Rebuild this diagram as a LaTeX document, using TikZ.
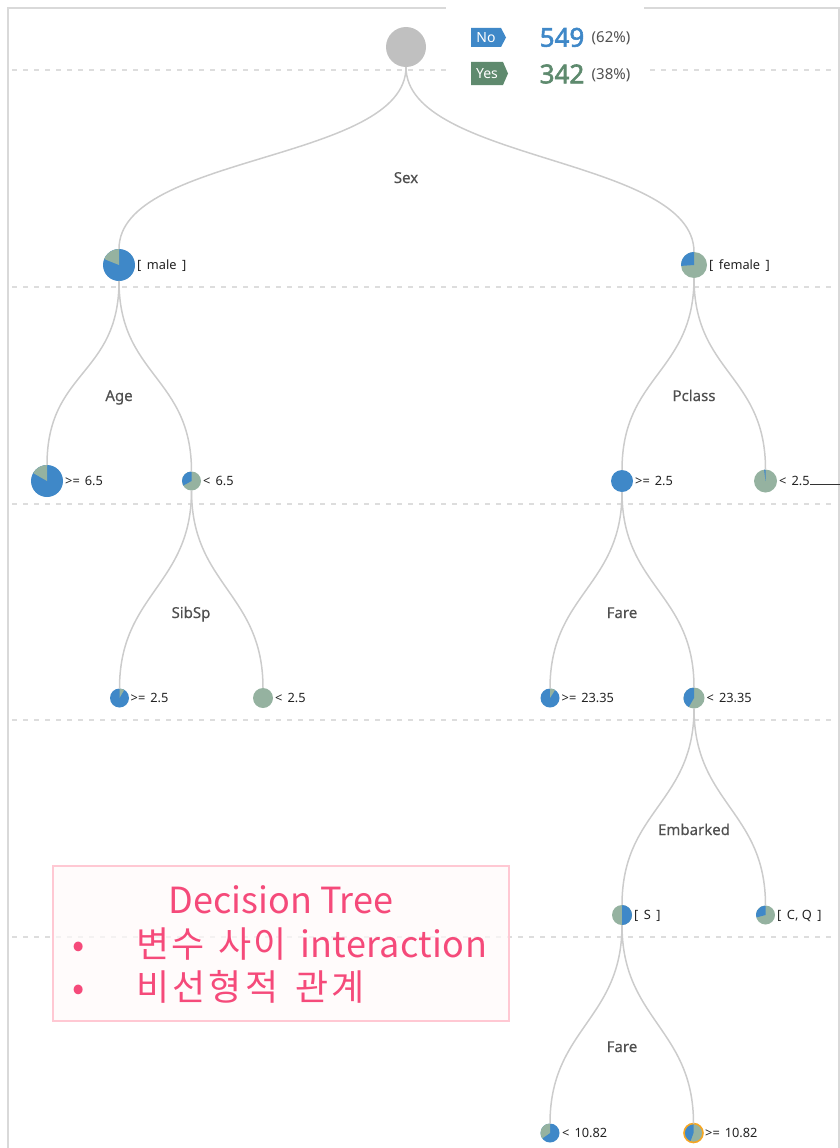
\documentclass[tikz,border=0pt]{standalone}
\usepackage{fontspec}
\setmainfont{Noto Sans}
\newfontfamily\krfont{Noto Sans CJK KR}
\newfontfamily\numfont[FakeBold=2.2]{Noto Sans}
\newfontfamily\splitfont[FakeBold=0.4]{Noto Sans}
\usetikzlibrary{calc}
\definecolor{pieblue}{HTML}{3F88C8}
\definecolor{piegreen}{HTML}{95B2A0}
\definecolor{rootgray}{HTML}{C0C0C0}
\definecolor{edgegray}{HTML}{CCCCCC}
\definecolor{lblgray}{HTML}{505050}
\definecolor{dashgray}{HTML}{DDDDDD}
\definecolor{framegray}{HTML}{D9D9D9}
\definecolor{tagblue}{HTML}{3F88C8}
\definecolor{taggreen}{HTML}{5F8A6E}
\definecolor{numgreen}{HTML}{5E8A6E}
\definecolor{pinktext}{HTML}{F54A7A}
\definecolor{pinkborder}{HTML}{FFC8D3}
\definecolor{pinkfill}{HTML}{FFFAFA}
\definecolor{selorange}{HTML}{F5A623}
\definecolor{leaftext}{HTML}{222222}
\newcommand\piewedge[5]{\fill[#5] (#1.center) -- (#1.#3) arc[start angle=#3, end angle=#4, radius=#2] -- cycle;}
\newcommand\branch[2]{\draw[branchline] (#1.south) .. controls ($(#1.south)+(0,95)$) and ($(#2.north)+(0,-95)$) .. (#2.north);}
\newcommand\krword[2]{{\addfontfeature{LetterSpace=#1}#2}}
\newcommand\enword[1]{{\addfontfeature{LetterSpace=1}#1}}
\begin{document}
\begin{tikzpicture}[x=1pt,y=-1pt,
  piecirc/.style={circle, inner sep=0pt, outer sep=0pt, minimum size=#1},
  branchline/.style={draw=edgegray, line width=1.5pt},
  splitlbl/.style={font=\splitfont\fontsize{15}{17}\selectfont, text=lblgray, inner sep=0pt, anchor=base},
  leaflbl/.style={font=\fontsize{12.8}{14}\selectfont, text=leaftext, inner sep=0pt, anchor=base west},
  sepline/.style={draw=dashgray, line width=1.2pt, dash pattern=on 5pt off 6pt},
  pinkt/.style={font=\krfont\fontsize{36}{40}\selectfont, text=pinktext, inner sep=0pt},
]
\useasboundingbox (0,0) rectangle (840,1148);
% frame
\draw[framegray, line width=1.5pt] (8,1148) -- (8,8) -- (839,8) -- (839,1148);
% level separators
\foreach \yy in {70,287,504,720,937} {\draw[sepline] (12,\yy) -- (836,\yy);}
% legend background
\fill[white] (446,0) rectangle (644,95);
% legend
\fill[tagblue] (471,28) -- (501,28) -- (506,37.5) -- (501,47) -- (471,47) -- cycle;
\node[text=white, font=\fontsize{14}{16}\selectfont, inner sep=0pt] (notag) at (486,37.5) {No};
\fill[taggreen] (471,62) -- (503,62) -- (508,73.5) -- (503,85) -- (471,85) -- cycle;
\node[text=white, font=\fontsize{14}{16}\selectfont, inner sep=0pt] (yestag) at (487,73.5) {Yes};
\node[anchor=base west, inner sep=0pt, text=pieblue, font=\numfont\fontsize{26}{28}\selectfont] (nonum) at (539.5,46.7) {549};
\node[anchor=base west, inner sep=0pt, text=lblgray, font=\fontsize{15}{17}\selectfont] (nopct) at (591.5,42.3) {(62\%)};
\node[anchor=base west, inner sep=0pt, text=numgreen, font=\numfont\fontsize{26}{28}\selectfont] (yesnum) at (539.5,83.3) {342};
\node[anchor=base west, inner sep=0pt, text=lblgray, font=\fontsize{15}{17}\selectfont] (yespct) at (591.5,79) {(38\%)};

% nodes
\node[piecirc=40pt, fill=rootgray] (root) at (406,47) {};
\node[piecirc=32pt, fill=pieblue] (male) at (119,265) {};
\node[piecirc=26pt, fill=piegreen] (female) at (694,265) {};
\node[piecirc=32pt, fill=pieblue] (ageA) at (47,481) {};
\node[piecirc=19pt, fill=piegreen] (ageB) at (191.5,481) {};
\node[piecirc=22pt, fill=pieblue] (pcA) at (622,481) {};
\node[piecirc=23pt, fill=piegreen] (pcB) at (765.5,481) {};
\node[piecirc=19pt, fill=pieblue] (sibA) at (119.5,698) {};
\node[piecirc=20pt, fill=piegreen] (sibB) at (263,698) {};
\node[piecirc=19pt, fill=pieblue] (fareA) at (550,698) {};
\node[piecirc=21pt, fill=piegreen] (fareB) at (694,698) {};
\node[piecirc=20pt, fill=piegreen] (embS) at (622,915) {};
\node[piecirc=19pt, fill=piegreen] (embCQ) at (765.5,915) {};
\node[piecirc=19pt, fill=pieblue] (fareCA) at (550,1133) {};
\node[piecirc=19pt, fill=piegreen] (fareCB) at (693.5,1133) {};

% wedges
\piewedge{male}{16pt}{90}{158}{piegreen}
\piewedge{female}{13pt}{90}{184}{pieblue}
\piewedge{ageA}{16pt}{90}{150}{piegreen}
\piewedge{ageB}{9.5pt}{90}{209}{pieblue}
\piewedge{pcB}{11.5pt}{90}{97}{pieblue}
\piewedge{sibA}{9.5pt}{60}{90}{piegreen}
\piewedge{fareA}{9.5pt}{58}{90}{piegreen}
\piewedge{fareB}{10.5pt}{90}{240}{pieblue}
\piewedge{embS}{10pt}{-90}{90}{pieblue}
\piewedge{embCQ}{9.5pt}{90}{195}{pieblue}
\piewedge{fareCA}{9.5pt}{90}{215}{piegreen}
\piewedge{fareCB}{9.5pt}{90}{250}{pieblue}
\draw[selorange, line width=1.6pt] (fareCB.center) circle[radius=9.5pt];

% branches
\branch{root}{male}
\branch{root}{female}
\branch{male}{ageA}
\branch{male}{ageB}
\branch{female}{pcA}
\branch{female}{pcB}
\branch{ageB}{sibA}
\branch{ageB}{sibB}
\branch{pcA}{fareA}
\branch{pcA}{fareB}
\branch{fareB}{embS}
\branch{fareB}{embCQ}
\branch{embS}{fareCA}
\branch{embS}{fareCB}

% split labels
\node[splitlbl] (sexL) at (406,183) {Sex};
\node[splitlbl] (ageL) at (119,401) {Age};
\node[splitlbl] (pclassL) at (694,401) {Pclass};
\node[splitlbl] (sibspL) at (191,618) {SibSp};
\node[splitlbl] (fareL) at (622,618) {Fare};
\node[splitlbl] (embL) at (694,835) {Embarked};
\node[splitlbl] (fareCL) at (622,1052) {Fare};

% leaf labels
\node[leaflbl] (maleL) at ([xshift=2pt,yshift=-4.5pt]male.east) {[\hspace{5.5pt}male\hspace{5.5pt}]};
\node[leaflbl] (femaleL) at ([xshift=2pt,yshift=-4.5pt]female.east) {[\hspace{5.5pt}female\hspace{5.5pt}]};
\node[leaflbl] (ageAL) at ([xshift=2pt,yshift=-4.5pt]ageA.east) {>=\hspace{5pt}6.5};
\node[leaflbl] (ageBL) at ([xshift=2pt,yshift=-4.5pt]ageB.east) {<\hspace{5pt}6.5};
\node[leaflbl] (pcAL) at ([xshift=2pt,yshift=-4.5pt]pcA.east) {>=\hspace{5pt}2.5};
\node[leaflbl] (pcBL) at ([xshift=2pt,yshift=-4.5pt]pcB.east) {<\hspace{5pt}2.5};
\node[leaflbl] (sibAL) at ([xshift=1.5pt,yshift=-4.5pt]sibA.east) {>=\hspace{5pt}2.5};
\node[leaflbl] (sibBL) at ([xshift=2pt,yshift=-4.5pt]sibB.east) {<\hspace{5pt}2.5};
\node[leaflbl] (fareAL) at ([xshift=2pt,yshift=-4.5pt]fareA.east) {>=\hspace{5pt}23.35};
\node[leaflbl] (fareBL) at ([xshift=2pt,yshift=-4.5pt]fareB.east) {<\hspace{5pt}23.35};
\node[leaflbl] (embSL) at ([xshift=2pt,yshift=-4.5pt]embS.east) {[\hspace{5.5pt}S\hspace{5.5pt}]};
\node[leaflbl] (embCQL) at ([xshift=2pt,yshift=-4.5pt]embCQ.east) {[\hspace{5.5pt}C, Q\hspace{5.5pt}]};
\node[leaflbl] (fareCAL) at ([xshift=2.5pt,yshift=-4.5pt]fareCA.east) {<\hspace{5pt}10.82};
\node[leaflbl] (fareCBL) at ([xshift=2pt,yshift=-4.5pt]fareCB.east) {>=\hspace{5pt}10.82};
\coordinate (offR) at (840,484);
\draw[black!80, line width=1pt] ([yshift=1.5pt]pcBL.base east) -- (offR);

% annotation box
\node[draw=pinkborder, fill=pinkfill, fill opacity=0.7, line width=1.5pt, minimum width=456pt, minimum height=155pt, inner sep=0pt] (note) at (281,943.5) {};
\node[pinkt, anchor=base] (title) at (281,913) {Decision Tree};
\node[pinkt, anchor=base] (bulletA) at (79,957) {•};
\node[pinkt, anchor=base west] (lineA) at (136,957) {\krword{7.5}{변수}\hspace{13pt}\krword{7.5}{사이}\hspace{13pt}\enword{interaction}};
\node[pinkt, anchor=base] (bulletB) at (79,1000) {•};
\node[pinkt, anchor=base west] (lineB) at (136,1000) {\krword{9}{비선형적}\hspace{17pt}\krword{9}{관계}};
\end{tikzpicture}
\end{document}
